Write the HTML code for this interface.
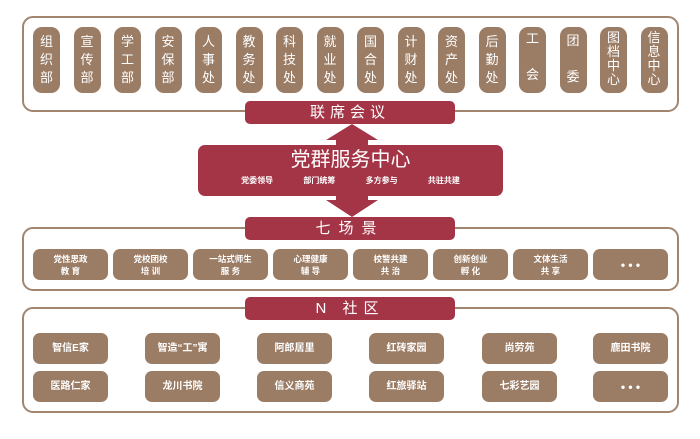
<!DOCTYPE html>
<html><head><meta charset="utf-8"><style>
*{margin:0;padding:0;box-sizing:border-box}
body{width:700px;height:439px;background:#fff;position:relative;overflow:hidden;font-family:"Liberation Sans","Noto Sans CJK SC",sans-serif}
.box{position:absolute;border:2px solid #a08670;border-radius:11px}
.p{position:absolute;background:#9b7c65;color:#fff;border-radius:9px;width:27px;top:27px;height:66px;font-size:13px;line-height:18px;text-align:center;padding-top:6px}
.bar{position:absolute;background:#a33547;color:#fff;border-radius:5px;left:245px;width:210px;height:23px;text-align:center;font-size:15px;line-height:23px;letter-spacing:5px}
.it{position:absolute;background:#9b7c65;color:#fff;border-radius:7px;width:75px;height:31px;font-size:8.5px;font-weight:bold;text-align:center;display:flex;align-items:center;justify-content:center;line-height:12px}
</style></head><body>
<div class="box" style="left:22px;top:16px;width:657px;height:96px"></div>
<div class="box" style="left:22px;top:227px;width:657px;height:64px"></div>
<div class="box" style="left:22px;top:307px;width:657px;height:106px"></div>

<div class="p" style="left:33px">组<br>织<br>部</div>
<div class="p" style="left:73.5px">宣<br>传<br>部</div>
<div class="p" style="left:114px">学<br>工<br>部</div>
<div class="p" style="left:154.5px">安<br>保<br>部</div>
<div class="p" style="left:195px">人<br>事<br>处</div>
<div class="p" style="left:235.5px">教<br>务<br>处</div>
<div class="p" style="left:276px">科<br>技<br>处</div>
<div class="p" style="left:316.5px">就<br>业<br>处</div>
<div class="p" style="left:357px">国<br>合<br>处</div>
<div class="p" style="left:397.5px">计<br>财<br>处</div>
<div class="p" style="left:438px">资<br>产<br>处</div>
<div class="p" style="left:478.5px">后<br>勤<br>处</div>
<div class="p" style="left:519px;padding-top:3px">工<br><br>会</div>
<div class="p" style="left:559.5px;padding-top:5px">团<br><br>委</div>
<div class="p" style="left:600px;line-height:14px;padding-top:4px">图<br>档<br>中<br>心</div>
<div class="p" style="left:640.5px;line-height:14px;padding-top:4px">信<br>息<br>中<br>心</div>

<svg style="position:absolute;left:0;top:0" width="700" height="439">
<polygon points="352,124 378,140 368,140 368,146 336,146 336,140 326,140" fill="#a33547"/>
<polygon points="352,217 378,200 368,200 368,194 336,194 336,200 326,200" fill="#a33547"/>
</svg>
<div class="bar" style="top:101px">联席会议</div>
<div style="position:absolute;left:198px;top:145px;width:305px;height:51px;background:#a33547;border-radius:7px;color:#fff;text-align:center">
<div style="font-size:20px;line-height:24px;margin-top:3px">党群服务中心</div>
<div style="font-size:8px;font-weight:bold;display:flex;justify-content:space-around;padding:0 28px;margin-top:3px"><span>党委领导</span><span>部门统筹</span><span>多方参与</span><span>共驻共建</span></div>
</div>
<div class="bar" style="top:217px;letter-spacing:8px">七场景</div>
<div class="bar" style="top:297px;letter-spacing:6px">N 社区</div>

<div class="it" style="left:33px;top:249px">党性思政<br>教 育</div>
<div class="it" style="left:113px;top:249px">党校团校<br>培 训</div>
<div class="it" style="left:193px;top:249px">一站式师生<br>服 务</div>
<div class="it" style="left:273px;top:249px">心理健康<br>辅 导</div>
<div class="it" style="left:353px;top:249px">校警共建<br>共 治</div>
<div class="it" style="left:433px;top:249px">创新创业<br>孵 化</div>
<div class="it" style="left:513px;top:249px">文体生活<br>共 享</div>
<div class="it" style="left:593px;top:249px;font-size:12px">• • •</div>

<div class="it" style="left:33px;top:333px;font-size:10px">智信E家</div>
<div class="it" style="left:145px;top:333px;font-size:10px">智造“工”寓</div>
<div class="it" style="left:257px;top:333px;font-size:10px">阿郎居里</div>
<div class="it" style="left:369px;top:333px;font-size:10px">红砖家园</div>
<div class="it" style="left:482px;top:333px;font-size:10px">尚劳苑</div>
<div class="it" style="left:593px;top:333px;font-size:10px">鹿田书院</div>
<div class="it" style="left:33px;top:371px;font-size:10px">医路仁家</div>
<div class="it" style="left:145px;top:371px;font-size:10px">龙川书院</div>
<div class="it" style="left:257px;top:371px;font-size:10px">信义商苑</div>
<div class="it" style="left:369px;top:371px;font-size:10px">红旅驿站</div>
<div class="it" style="left:482px;top:371px;font-size:10px">七彩艺园</div>
<div class="it" style="left:593px;top:371px;font-size:12px">• • •</div>
</body></html>
